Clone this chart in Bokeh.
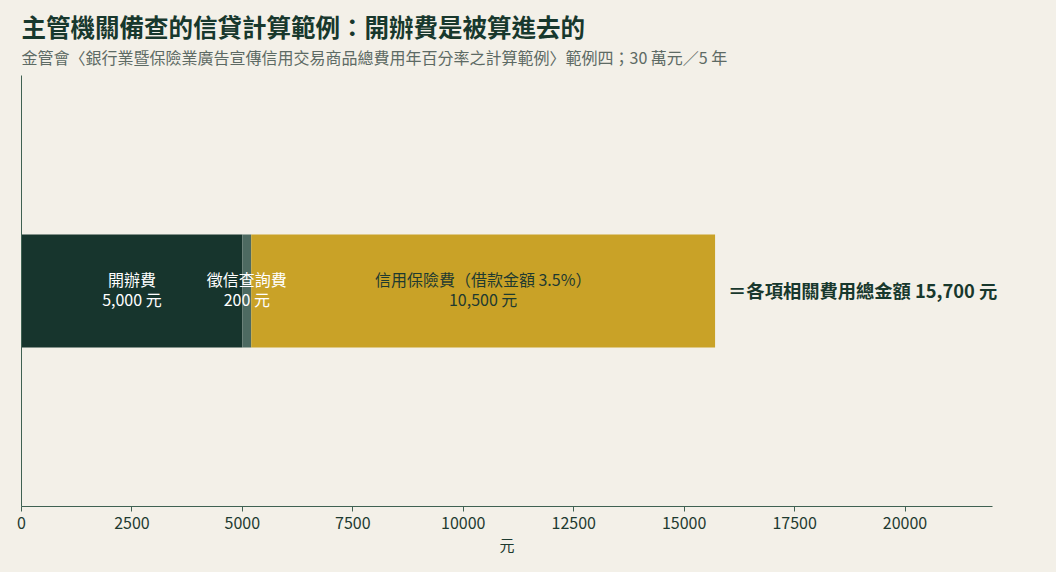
from bokeh.plotting import figure
from bokeh.models import Range1d, FixedTicker, Label, Title, ColumnDataSource
from bokeh.core.properties import value
from bokeh.embed import file_html
from bokeh.resources import INLINE

# ---- data ----
categories = ["開辦費", "徵信查詢費", "信用保險費（借款金額 3.5%）"]
amounts = [5000, 200, 10500]
bar_colors = ["#17352d", "#4d6a61", "#c9a227"]
label_colors = ["#ffffff", "#ffffff", "#1e3a30"]
x_ticks = [0, 2500, 5000, 7500, 10000, 12500, 15000, 17500, 20000]
x_axis_end = 21980

title_text = "主管機關備查的信貸計算範例：開辦費是被算進去的"
subtitle_text = "金管會〈銀行業暨保險業廣告宣傳信用交易商品總費用年百分率之計算範例〉範例四；30 萬元／5 年"
axis_label = "元"

BG = "#f3f0e8"
DARK = "#18382d"
AXIS = "#3f6152"
FONT = "Noto Sans CJK TC"

lefts, rights = [], []
acc = 0
for a in amounts:
    lefts.append(acc)
    acc += a
    rights.append(acc)
total = acc
mids = [(l + r) / 2 for l, r in zip(lefts, rights)]
texts = [f"{c}\n{a:,} 元" for c, a in zip(categories, amounts)]

src = ColumnDataSource(dict(left=lefts, right=rights, mid=mids, y=[0.5] * 3,
                            color=bar_colors, tcolor=label_colors, text=texts))

# frame spans the full width/top so that texts are not clipped; axes are bounded
p = figure(width=1056, height=572,
           x_range=Range1d(0, x_axis_end * 1035 / 971), y_range=Range1d(0, 506 / 431),
           output_backend="svg", toolbar_location=None,
           min_border_left=21, min_border_right=0, min_border_top=0, min_border_bottom=66)
p.background_fill_color = BG
p.border_fill_color = BG
p.outline_line_color = None
p.grid.visible = False

p.hbar(y="y", left="left", right="right", height=0.262, color="color", line_color=None, source=src)
p.text(x="mid", y="y", text="text", text_align="center", text_baseline="middle",
       text_color="tcolor", text_font=value(FONT), text_font_size="16px",
       text_line_height=0.86, y_offset=-2, source=src)

p.add_layout(Label(x=total, y=0.5, x_offset=13, y_offset=1,
                   text=f"＝各項相關費用總金額 {total:,} 元",
                   text_baseline="middle", text_font=FONT, text_font_size="18.3px",
                   text_font_style="bold", text_color=DARK))

ay = p.yaxis[0]
ay.bounds = (0, 1)
ay.ticker = FixedTicker(ticks=[])
ay.minor_tick_line_color = None
ay.major_tick_line_color = None
ay.major_label_text_font_size = "0px"
ay.axis_line_color = AXIS

ax = p.xaxis[0]
ax.bounds = (0, x_axis_end)
ax.ticker = FixedTicker(ticks=x_ticks)
ax.minor_tick_line_color = None
ax.axis_line_color = AXIS
ax.major_tick_line_color = AXIS
ax.major_tick_out = 5
ax.major_tick_in = 0
ax.major_label_text_font = FONT
ax.major_label_text_font_size = "16px"
ax.major_label_text_color = "#1e3a30"
ax.major_label_standoff = 5

p.add_layout(Title(text=axis_label, align="left", offset=478, standoff=1,
                   text_font=FONT, text_font_size="15px", text_font_style="normal",
                   text_color="#1e3a30"), "below")

# titles placed relative to the plot frame (screen units, y measured up from frame bottom)
p.add_layout(Label(x=0, y=506 - 26, x_units="screen", y_units="screen", text=title_text,
                   text_baseline="middle", text_font=FONT, text_font_size="24.5px",
                   text_font_style="bold", text_color=DARK))
p.add_layout(Label(x=0, y=506 - 56, x_units="screen", y_units="screen", text=subtitle_text,
                   text_baseline="middle", text_font=FONT, text_font_size="16px",
                   text_color="#5d6a64"))

html = file_html(p, INLINE)
html = html.replace("<head>", f"<head><style>html,body{{margin:0;padding:0;background:{BG};}}</style>", 1)
open("out.html", "w").write(html)
